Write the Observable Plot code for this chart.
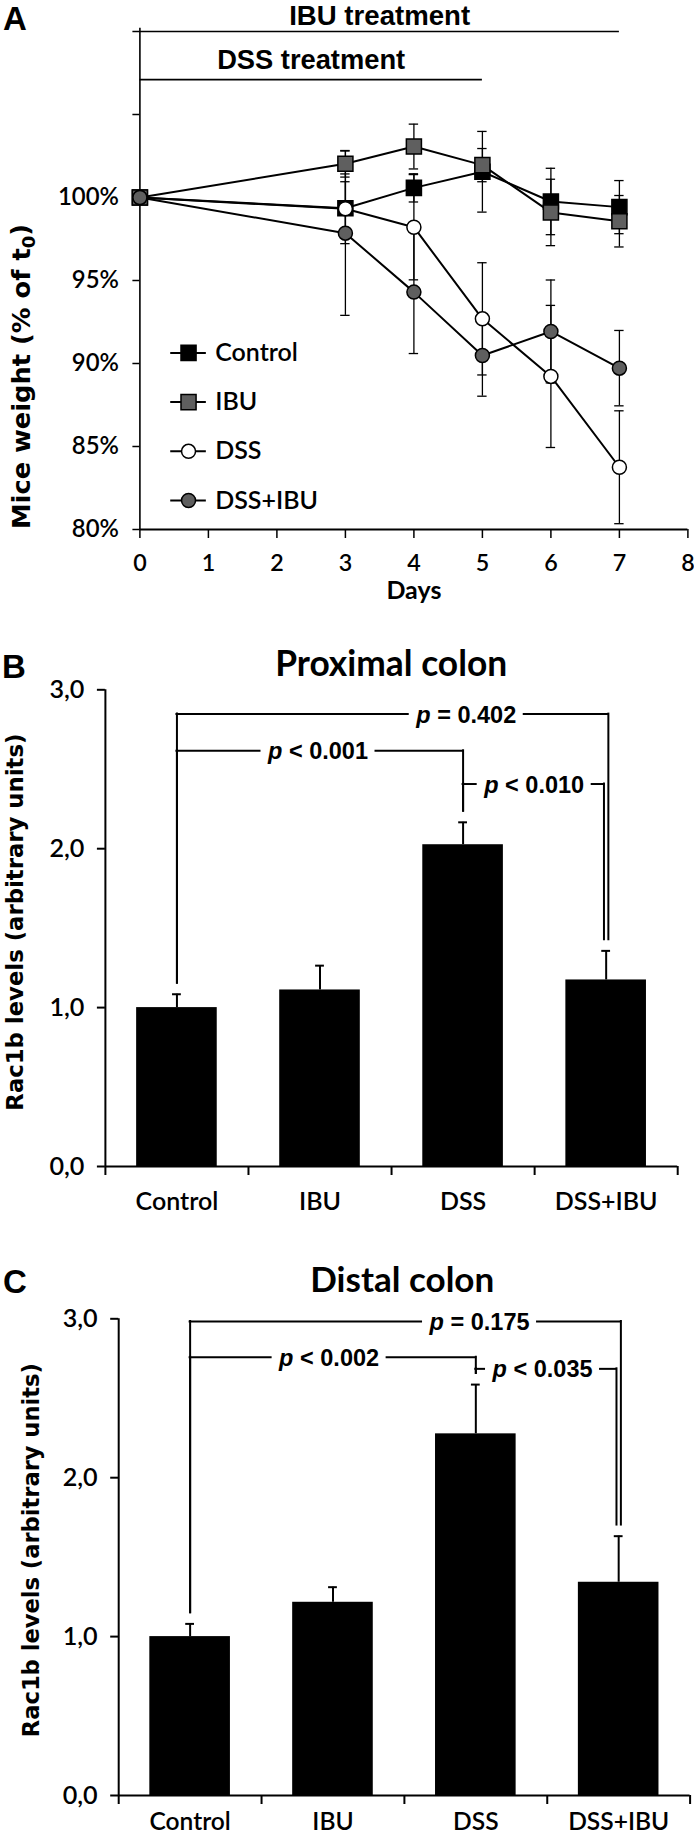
<!DOCTYPE html>
<html><head><meta charset="utf-8">
<script src="https://cdn.jsdelivr.net/npm/d3@7"></script>
<script src="https://cdn.jsdelivr.net/npm/@observablehq/plot@0.6"></script>
<style>
body{margin:0;background:#fff;}
#root{position:relative;width:694px;height:1839px;overflow:hidden;background:#fff;}
.abs{position:absolute;white-space:nowrap;color:#000;}
.letter{font-family:"Liberation Sans",Arial,sans-serif;font-weight:bold;font-size:33px;line-height:33px;}
</style></head><body><div id="root"></div>
<script>
// ---------------- DATA ----------------
// Panel A: mice weight (% of t0)
const days = [0, 3, 4, 5, 6, 7];
const seriesNames = ["Control", "IBU", "DSS", "DSS+IBU"];
const weightControl = [100, 99.35, 100.58, 101.55, 99.76, 99.42];
const errControl    = [0, 1.6, 0.85, 2.43, 2.0, 1.6];
const weightIBU     = [100, 102.03, 103.07, 101.95, 99.1, 98.57];
const errIBU        = [0, 0.8, 1.35, 1.0, 2.0, 1.55];
const weightDSS     = [100, 99.32, 98.21, 92.69, 89.22, 83.75];
const errDSS        = [0, 2.1, 3.17, 3.38, 4.28, 3.4];
const weightDSSIBU  = [100, 97.85, 94.3, 90.48, 91.93, 89.72];
const errDSSIBU     = [0, 4.95, 3.7, 2.45, 3.1, 2.27];
const treatmentLabels = ["IBU treatment", "DSS treatment"];
const treatmentStart = [0, 0];
const treatmentEnd = [7, 5];
const xTicksA = [0, 1, 2, 3, 4, 5, 6, 7, 8];
const yTicksA = [80, 85, 90, 95, 100, 105, 110];
const yLabeledMaxA = 100;

// Panels B and C: Rac1b levels
const groups = ["Control", "IBU", "DSS", "DSS+IBU"];
const proximalValues = [1.0, 1.111, 2.025, 1.174];
const proximalErrors = [0.084, 0.153, 0.141, 0.183];
const distalValues = [1.0, 1.216, 2.276, 1.342];
const distalErrors = [0.08, 0.095, 0.31, 0.29];
const proximalTestA = ["Control", "Control", "DSS"];
const proximalTestB = ["DSS", "DSS+IBU", "DSS+IBU"];
const proximalP = ["p < 0.001", "p = 0.402", "p < 0.010"];
const distalTestA = ["Control", "Control", "DSS"];
const distalTestB = ["DSS", "DSS+IBU", "DSS+IBU"];
const distalP = ["p < 0.002", "p = 0.175", "p < 0.035"];
const yTicksBar = [0, 1, 2, 3];

// ---------------- LAYOUT / STYLE ----------------
const W = 694;
const GRAY = "#5f5f5f";
const markerStyle = {
  "Control": {symbol: "square", fill: "#000", r: 8.5},
  "IBU": {symbol: "square", fill: GRAY, r: 8.5},
  "DSS": {symbol: "circle", fill: "#fff", r: 7},
  "DSS+IBU": {symbol: "circle", fill: GRAY, r: 7}
};
const baseStyle = {fontFamily: "Lato, sans-serif", fontSize: "24px", color: "#000", background: "transparent", overflow: "visible"};
const root = document.getElementById("root");
const NS = "http://www.w3.org/2000/svg";

function place(el, top) {
  el.style.position = "absolute";
  el.style.left = "0px";
  el.style.top = top + "px";
  root.appendChild(el);
}
// scale font-size of matching texts so a reference text reaches a target width
function fitGroup(svg, refText, target, members) {
  const texts = [...svg.querySelectorAll("text")];
  const ref = texts.find(t => t.textContent === refText);
  if (!ref) return;
  const fs = parseFloat(getComputedStyle(ref).fontSize);
  const w = ref.getComputedTextLength();
  if (!(w > 0)) return;
  const nf = fs * target / w;
  texts.filter(t => members.includes(t.textContent)).forEach(t => { t.style.fontSize = nf + "px"; });
}
// single text: size to target and lock its length
function fitOne(svg, text, target) {
  fitGroup(svg, text, target, [text]);
  svg.querySelectorAll("text").forEach(t => {
    if (t.textContent === text) {
      t.setAttribute("textLength", target);
      t.setAttribute("lengthAdjust", "spacingAndGlyphs");
    }
  });
}

// ---------------- PANEL A ----------------
const weightSeries = [
  {name: "Control", values: weightControl, errors: errControl},
  {name: "IBU", values: weightIBU, errors: errIBU},
  {name: "DSS", values: weightDSS, errors: errDSS},
  {name: "DSS+IBU", values: weightDSSIBU, errors: errDSSIBU}
];
const weightData = weightSeries.flatMap(s => days.map((d, i) => ({series: s.name, day: d, value: s.values[i], err: s.errors[i]})));
const errData = weightData.filter(d => d.err > 0);
const treatments = treatmentLabels.map((label, i) => ({label, start: treatmentStart[i], end: treatmentEnd[i]}));
const treatLineLevel = [110, 107.1];
const treatTextLevel = [110.95, 108.24];
const legendTop = 90.64, legendStep = 2.965;
const titleA = "Mice weight (% of t0)";

const legendMarks = seriesNames.flatMap((name, i) => {
  const y = legendTop - i * legendStep;
  const st = markerStyle[name];
  return [
    Plot.ruleY([y], {x1: 0.45, x2: 0.97, stroke: "#000", strokeWidth: 2}),
    Plot.dot([name], {x: 0.71, y: () => y, symbol: st.symbol, r: st.r, fill: st.fill, stroke: "#000", strokeWidth: 1.5}),
    Plot.text([name], {x: 1.1, y: () => y, text: d => d, textAnchor: "start", fontSize: 25, fontWeight: 600})
  ];
});

const plotA = Plot.plot({
  width: W, height: 620,
  marginLeft: 139.4, marginRight: 6.6, marginTop: 31, marginBottom: 91,
  x: {domain: [0, 8]},
  y: {domain: [80, 110]},
  style: baseStyle,
  marks: [
    Plot.ruleY(treatments, {y: (d, i) => treatLineLevel[i], x1: "start", x2: "end", stroke: "#000", strokeWidth: 1.6}),
    Plot.text(treatments, {x: d => (d.start + d.end) / 2, y: (d, i) => treatTextLevel[i], text: "label", fontFamily: "Liberation Sans, Arial, sans-serif", fontSize: 24, fontWeight: "bold"}),
    Plot.ruleX([0], {y1: 80, y2: 110.2, stroke: "#000", strokeWidth: 1.6}),
    Plot.ruleY([80], {x1: 0, x2: 8, stroke: "#000", strokeWidth: 2}),
    Plot.axisY(yTicksA, {tickSize: 7, tickPadding: 14, tickFormat: d => d <= yLabeledMaxA ? d + "%" : "", fontSize: 24, fontWeight: 600, label: null, strokeWidth: 1.5}),
    Plot.axisX(xTicksA, {tickSize: 9, tickPadding: 16, fontSize: 24, fontWeight: 600, label: null, strokeWidth: 1.5}),
    Plot.text(["Days"], {x: 4, frameAnchor: "bottom", dy: 69, text: d => d, fontSize: 23, fontWeight: "bold"}),
    Plot.text([titleA], {frameAnchor: "left", dx: -118.4, dy: 96, rotate: -90, textAnchor: "middle", lineAnchor: "middle", text: d => d, fontFamily: "DejaVu Sans, sans-serif", fontWeight: "bold", fontSize: 22}),
    Plot.line(weightData, {x: "day", y: "value", z: "series", stroke: "#000", strokeWidth: 2}),
    Plot.ruleX(errData, {x: "day", y1: d => d.value - d.err, y2: d => d.value + d.err, stroke: "#000", strokeWidth: 1.3}),
    Plot.ruleY(errData, {x1: "day", x2: "day", y: d => d.value + d.err, insetLeft: -4.7, insetRight: -4.7, stroke: "#000", strokeWidth: 1.3}),
    Plot.ruleY(errData, {x1: "day", x2: "day", y: d => d.value - d.err, insetLeft: -4.7, insetRight: -4.7, stroke: "#000", strokeWidth: 1.3}),
    ...seriesNames.map(name => {
      const st = markerStyle[name];
      return Plot.dot(weightData.filter(d => d.series === name), {x: "day", y: "value", symbol: st.symbol, r: st.r, fill: st.fill, stroke: "#000", strokeWidth: 1.5});
    }),
    ...legendMarks
  ]
});
place(plotA, 0);
// fit text widths to the reference
fitOne(plotA, titleA, 305);
fitOne(plotA, "IBU treatment", 181);
fitOne(plotA, "DSS treatment", 188);
fitOne(plotA, "Days", 55);
fitGroup(plotA, "Control", 82.7, seriesNames);
fitGroup(plotA, "100%", 61, yTicksA.map(d => d + "%"));
fitGroup(plotA, "0", 13.5, xTicksA.map(String));
// subscript 0 in axis title
plotA.querySelectorAll("text").forEach(t => {
  if (t.textContent === titleA) {
    t.textContent = "";
    const a = document.createElementNS(NS, "tspan"); a.textContent = "Mice weight (% of t";
    const b = document.createElementNS(NS, "tspan"); b.textContent = "0"; b.setAttribute("font-size", "0.7em"); b.setAttribute("dy", "0.28em");
    const c = document.createElementNS(NS, "tspan"); c.textContent = ")"; c.setAttribute("dy", "-0.2em");
    t.append(a, b, c);
  }
});

// ---------------- BAR PANELS ----------------
function barPanel(cfg) {
  const data = groups.map((g, i) => ({group: g, i, value: cfg.values[i], err: cfg.errors[i]}));
  const step = (W - cfg.marginLeft - cfg.marginRight) / groups.length;
  const idx = g => groups.indexOf(g);
  const topOf = g => data[idx(g)].value + data[idx(g)].err + cfg.dropGap;
  const segs = [], drops = [], labels = [];
  cfg.testA.forEach((a, j) => {
    const b = cfg.testB[j];
    const xa = idx(a) + 0.5, xb = idx(b) + 0.5 + cfg.rightNudge[j] / step;
    const lvl = cfg.levels[j], lab = cfg.labelAt[j], g = cfg.labelGap / step;
    segs.push({x1: xa, x2: lab - g, y: lvl}, {x1: lab + g, x2: xb, y: lvl});
    drops.push({x: xa, y1: lvl, y2: topOf(a)}, {x: xb, y1: lvl, y2: topOf(b)});
    labels.push({x: lab, y: lvl, text: cfg.pLabels[j]});
  });
  const inset = (step - cfg.barWidth) / 2;
  const svg = Plot.plot({
    width: W, height: cfg.height,
    marginLeft: cfg.marginLeft, marginRight: cfg.marginRight, marginTop: cfg.marginTop, marginBottom: cfg.marginBottom,
    x: {domain: [0, groups.length]},
    y: {domain: [0, 3]},
    style: baseStyle,
    marks: [
      Plot.rectY(data, {x1: "i", x2: d => d.i + 1, y1: 0, y2: "value", insetLeft: inset, insetRight: inset, fill: "#000"}),
      Plot.ruleX(data, {x: d => d.i + 0.5, y1: "value", y2: d => d.value + d.err, stroke: "#000", strokeWidth: 2}),
      Plot.ruleY(data, {x1: d => d.i + 0.5, x2: d => d.i + 0.5, y: d => d.value + d.err, insetLeft: -4.4, insetRight: -4.4, stroke: "#000", strokeWidth: 2}),
      Plot.ruleX([0], {y1: 0, y2: 3, stroke: "#000", strokeWidth: 2}),
      Plot.ruleY([0], {x1: 0, x2: groups.length, stroke: "#000", strokeWidth: 2}),
      Plot.axisY(yTicksBar, {tickSize: 8, tickPadding: 13, tickFormat: d => d.toFixed(1).replace(".", ","), fontSize: 24, fontWeight: 600, label: null, strokeWidth: 2}),
      Plot.axisX(d3.range(groups.length + 1), {tickSize: 9, tickFormat: () => "", label: null, strokeWidth: 2}),
      Plot.axisX(groups.map((g, i) => i + 0.5), {tickSize: 0, tickPadding: cfg.labelPad, tickFormat: d => groups[Math.floor(d)], fontSize: 25, fontWeight: 600, label: null}),
      Plot.ruleY(segs, {x1: "x1", x2: "x2", y: "y", stroke: "#000", strokeWidth: 2, strokeLinecap: "square"}),
      Plot.ruleX(drops, {x: "x", y1: "y1", y2: "y2", stroke: "#000", strokeWidth: 2, strokeLinecap: "square"}),
      Plot.text(labels, {x: "x", y: "y", text: "text", dy: 1, fontFamily: "Liberation Sans, Arial, sans-serif", fontWeight: "bold", fontSize: 23}),
      Plot.text([cfg.yTitle], {frameAnchor: "left", dx: cfg.titleDx, dy: cfg.titleDy, rotate: -90, textAnchor: "middle", lineAnchor: "middle", text: d => d, fontFamily: "DejaVu Sans, sans-serif", fontWeight: "bold", fontSize: 22}),
      Plot.text([cfg.title], {x: cfg.titleX, frameAnchor: "top", dy: cfg.titleY, lineAnchor: "middle", text: d => d, fontSize: 30, fontWeight: "bold"})
    ]
  });
  place(svg, cfg.top);
  fitOne(svg, cfg.yTitle, cfg.yTitleWidth);
  fitOne(svg, cfg.title, cfg.titleWidth);
  cfg.pLabels.forEach(p => fitOne(svg, p, 100));
  fitGroup(svg, "Control", cfg.catWidth, groups);
  fitGroup(svg, "3,0", 35, yTicksBar.map(d => d.toFixed(1).replace(".", ",")));
  svg.querySelectorAll("text").forEach(t => {
    const s = t.textContent;
    if (/^p [<=]/.test(s)) {
      t.textContent = "";
      const a = document.createElementNS(NS, "tspan"); a.textContent = "p"; a.setAttribute("font-style", "italic");
      const b = document.createElementNS(NS, "tspan"); b.textContent = s.slice(1);
      t.append(a, b);
    }
  });
  return svg;
}

barPanel({
  values: proximalValues, errors: proximalErrors,
  testA: proximalTestA, testB: proximalTestB, pLabels: proximalP,
  levels: [2.616, 2.847, 2.407], labelAt: [1.486, 2.522, 2.997], rightNudge: [0, 2.2, -2.2],
  labelGap: 58, dropGap: 0.07, barWidth: 80.6,
  top: 640, height: 590, marginLeft: 104.9, marginRight: 16.8, marginTop: 49.3, marginBottom: 64,
  labelPad: 25.7, catWidth: 82.8,
  yTitle: "Rac1b levels (arbitrary units)", titleDx: -89.4, titleDy: -6, yTitleWidth: 377,
  title: "Proximal colon", titleX: 1.997, titleY: -25.6, titleWidth: 232
});

barPanel({
  values: distalValues, errors: distalErrors,
  testA: distalTestA, testB: distalTestB, pLabels: distalP,
  levels: [2.758, 2.983, 2.685], labelAt: [1.473, 2.526, 2.967], rightNudge: [0, 2.2, -2.2],
  labelGap: 58, dropGap: 0.07, barWidth: 80.6,
  top: 1250, height: 589, marginLeft: 118.2, marginRight: 4.4, marginTop: 68.3, marginBottom: 44,
  labelPad: 16.7, catWidth: 81.4,
  yTitle: "Rac1b levels (arbitrary units)", titleDx: -87.2, titleDy: -7, yTitleWidth: 374,
  title: "Distal colon", titleX: 1.985, titleY: -38.3, titleWidth: 184
});

// ---------------- PANEL LETTERS ----------------
function addDiv(cls, text, left, top) {
  const d = document.createElement("div");
  d.className = "abs " + cls;
  d.textContent = text;
  d.style.left = left + "px";
  d.style.top = top + "px";
  root.appendChild(d);
}
addDiv("letter", "A", 3, 2.1);
addDiv("letter", "B", 2, 650.4);
addDiv("letter", "C", 3, 1265.1);
</script>
</body></html>
